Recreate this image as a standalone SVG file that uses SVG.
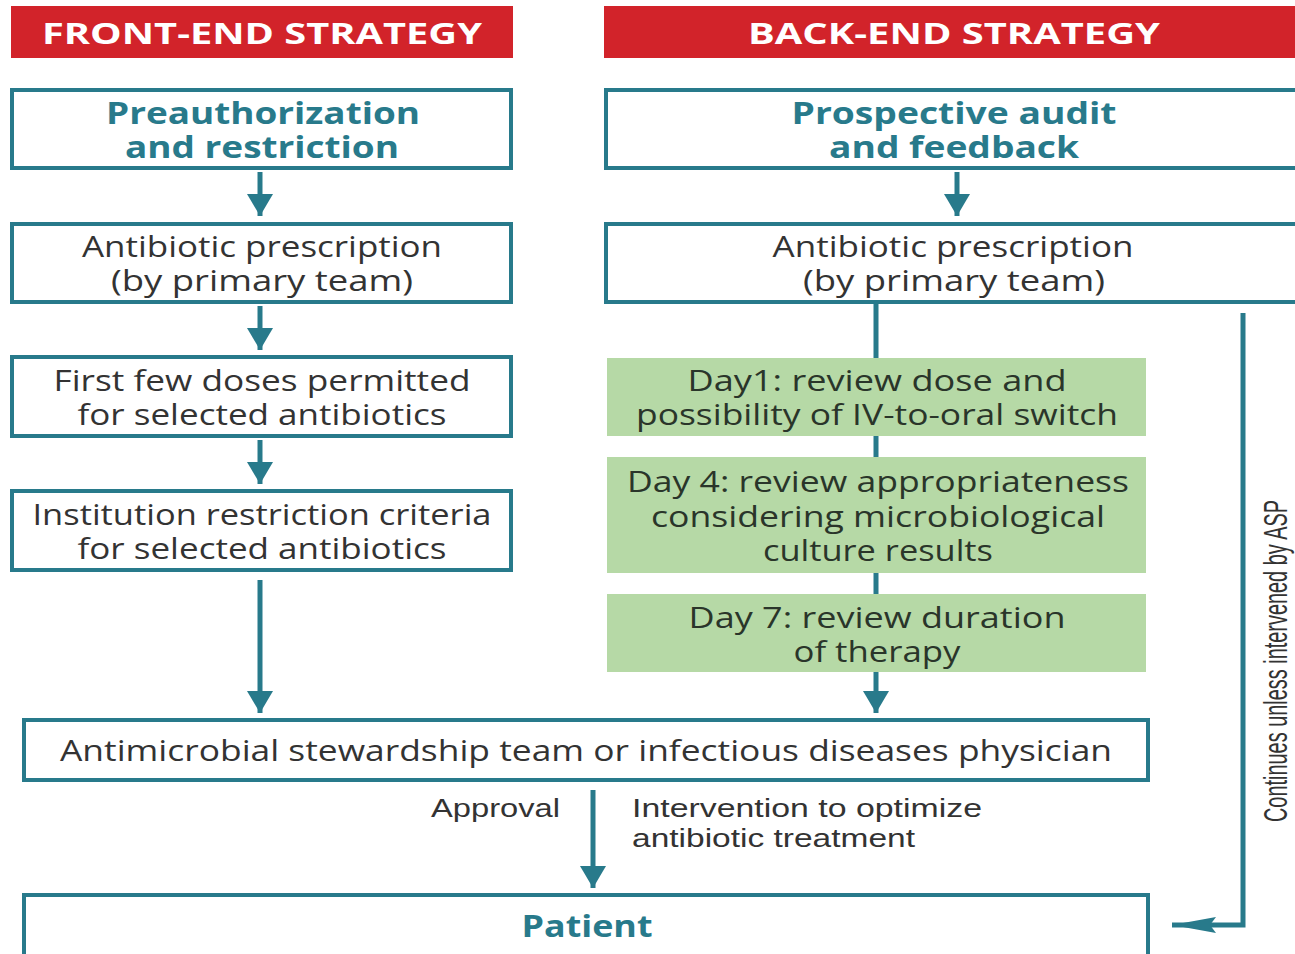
<svg xmlns="http://www.w3.org/2000/svg" width="1295" height="954" viewBox="0 0 1295 954">
<style>
.hdr{fill:#d2232a}
.hdrt{font-family:"Open Sans","Liberation Sans",sans-serif;font-weight:bold;font-size:28px;fill:#fff;text-anchor:middle}
.box{fill:#fff;stroke:#287a8b;stroke-width:4}
.grn{fill:#b6d9a6}
.ttl{font-family:"Open Sans","Liberation Sans",sans-serif;font-weight:bold;font-size:30px;fill:#287a8b;text-anchor:middle}
.txt{font-family:"Open Sans","Liberation Sans",sans-serif;font-size:29px;fill:#333;text-anchor:middle}
.gtx{font-family:"Open Sans","Liberation Sans",sans-serif;font-size:29px;fill:#2a352a;text-anchor:middle}
.sm{font-family:"Liberation Sans",sans-serif;font-size:26px;fill:#333}
.con{fill:none;stroke:#287a8b;stroke-width:5}
</style>
<defs>
<marker id="ah" markerUnits="userSpaceOnUse" markerWidth="30" markerHeight="26" refX="22" refY="13" orient="auto">
<polygon points="0,0 22,13 0,26" fill="#287a8b"/>
</marker>
<marker id="ahl" markerUnits="userSpaceOnUse" markerWidth="46" markerHeight="20" refX="44" refY="10" orient="auto">
<polygon points="0,2 44,10 0,18 6,10" fill="#287a8b"/>
</marker>
</defs>
<rect width="1295" height="954" fill="#fff"/>

<g id="connectors">
<line class="con" x1="260" y1="172" x2="260" y2="216" marker-end="url(#ah)"/>
<line class="con" x1="260" y1="306" x2="260" y2="350" marker-end="url(#ah)"/>
<line class="con" x1="260" y1="440" x2="260" y2="484" marker-end="url(#ah)"/>
<line class="con" x1="260" y1="580" x2="260" y2="713" marker-end="url(#ah)"/>
<line class="con" x1="957" y1="172" x2="957" y2="216" marker-end="url(#ah)"/>
<line class="con" x1="876" y1="304" x2="876" y2="713" marker-end="url(#ah)"/>
<line class="con" x1="593" y1="790" x2="593" y2="888" marker-end="url(#ah)"/>
<path class="con" d="M1243 313 V925 H1172" marker-end="url(#ahl)"/>
</g>

<g id="hdr-front">
<rect class="hdr" x="11" y="6" width="502" height="52"/>
<text class="hdrt" x="262" y="44" textLength="440" lengthAdjust="spacingAndGlyphs">FRONT-END STRATEGY</text>
</g>
<g id="hdr-back">
<rect class="hdr" x="604" y="6" width="691" height="52"/>
<text class="hdrt" x="954" y="44" textLength="412" lengthAdjust="spacingAndGlyphs">BACK-END STRATEGY</text>
</g>

<g id="preauth">
<rect class="box" x="12" y="90" width="499" height="78"/>
<text class="ttl" x="263" y="124" textLength="314" lengthAdjust="spacingAndGlyphs">Preauthorization</text>
<text class="ttl" x="262" y="158" textLength="274" lengthAdjust="spacingAndGlyphs">and restriction</text>
</g>
<g id="prospective">
<rect class="box" x="606" y="90" width="700" height="78"/>
<text class="ttl" x="954" y="124" textLength="325" lengthAdjust="spacingAndGlyphs">Prospective audit</text>
<text class="ttl" x="954" y="158" textLength="250" lengthAdjust="spacingAndGlyphs">and feedback</text>
</g>

<g id="rx-left">
<rect class="box" x="12" y="224" width="499" height="78"/>
<text class="txt" x="262" y="257" textLength="360" lengthAdjust="spacingAndGlyphs">Antibiotic prescription</text>
<text class="txt" x="262" y="291" textLength="302" lengthAdjust="spacingAndGlyphs">(by primary team)</text>
</g>
<g id="rx-right">
<rect class="box" x="606" y="224" width="700" height="78"/>
<text class="txt" x="953" y="257" textLength="361" lengthAdjust="spacingAndGlyphs">Antibiotic prescription</text>
<text class="txt" x="954" y="291" textLength="302" lengthAdjust="spacingAndGlyphs">(by primary team)</text>
</g>

<g id="first-doses">
<rect class="box" x="12" y="357" width="499" height="79"/>
<text class="txt" x="262" y="391" textLength="417" lengthAdjust="spacingAndGlyphs">First few doses permitted</text>
<text class="txt" x="262" y="425" textLength="369" lengthAdjust="spacingAndGlyphs">for selected antibiotics</text>
</g>
<g id="criteria">
<rect class="box" x="12" y="491" width="499" height="79"/>
<text class="txt" x="262" y="525" textLength="459" lengthAdjust="spacingAndGlyphs">Institution restriction criteria</text>
<text class="txt" x="262" y="559" textLength="369" lengthAdjust="spacingAndGlyphs">for selected antibiotics</text>
</g>

<g id="day1">
<rect class="grn" x="607" y="358" width="539" height="78"/>
<text class="gtx" x="877" y="391" textLength="379" lengthAdjust="spacingAndGlyphs">Day1: review dose and</text>
<text class="gtx" x="877" y="425" textLength="482" lengthAdjust="spacingAndGlyphs">possibility of IV-to-oral switch</text>
</g>
<g id="day4">
<rect class="grn" x="607" y="457" width="539" height="116"/>
<text class="gtx" x="878" y="492" textLength="502" lengthAdjust="spacingAndGlyphs">Day 4: review appropriateness</text>
<text class="gtx" x="878" y="527" textLength="454" lengthAdjust="spacingAndGlyphs">considering microbiological</text>
<text class="gtx" x="878" y="561" textLength="230" lengthAdjust="spacingAndGlyphs">culture results</text>
</g>
<g id="day7">
<rect class="grn" x="607" y="594" width="539" height="78"/>
<text class="gtx" x="877" y="628" textLength="377" lengthAdjust="spacingAndGlyphs">Day 7: review duration</text>
<text class="gtx" x="877" y="662" textLength="167" lengthAdjust="spacingAndGlyphs">of therapy</text>
</g>

<g id="asp-team">
<rect class="box" x="24" y="720" width="1124" height="60"/>
<text class="txt" x="586" y="761" textLength="1052" lengthAdjust="spacingAndGlyphs">Antimicrobial stewardship team or infectious diseases physician</text>
</g>

<g id="labels">
<text class="sm" x="560" y="817" text-anchor="end" textLength="129" lengthAdjust="spacingAndGlyphs">Approval</text>
<text class="sm" x="632" y="817" textLength="350" lengthAdjust="spacingAndGlyphs">Intervention to optimize</text>
<text class="sm" x="632" y="847" textLength="283" lengthAdjust="spacingAndGlyphs">antibiotic treatment</text>
<text class="sm" transform="translate(1287,661) rotate(-90)" text-anchor="middle" style="font-size:34px" textLength="322" lengthAdjust="spacingAndGlyphs">Continues unless intervened by ASP</text>
</g>

<g id="patient">
<rect class="box" x="24" y="895" width="1124" height="70"/>
<text class="ttl" x="587" y="937" textLength="131" lengthAdjust="spacingAndGlyphs">Patient</text>
</g>
</svg>
